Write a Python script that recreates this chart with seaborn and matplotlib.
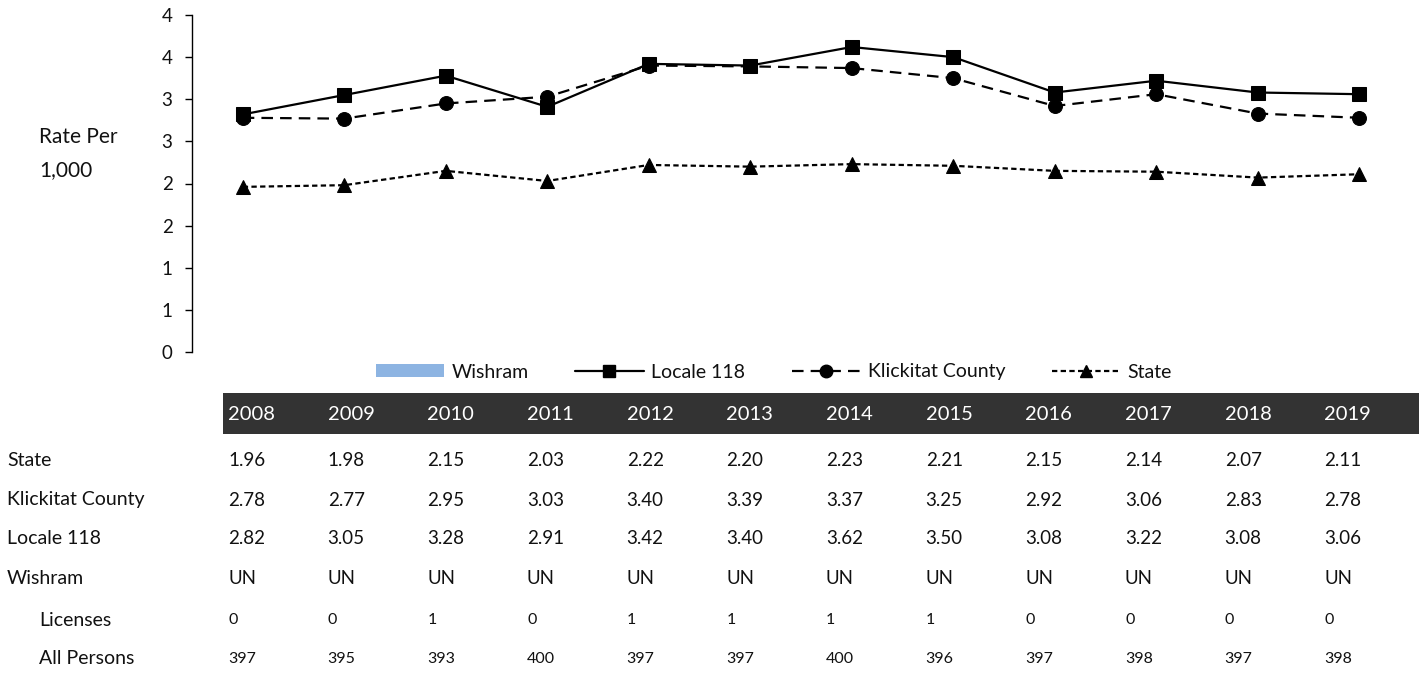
import matplotlib
matplotlib.use("Agg")
import matplotlib.pyplot as plt
import seaborn as sns
import pandas as pd
from matplotlib.patches import Patch, Rectangle
from matplotlib.lines import Line2D
from matplotlib.ticker import FixedLocator, FuncFormatter

years = ["2008", "2009", "2010", "2011", "2012", "2013", "2014", "2015", "2016", "2017", "2018", "2019"]
state = [1.96, 1.98, 2.15, 2.03, 2.22, 2.20, 2.23, 2.21, 2.15, 2.14, 2.07, 2.11]
klickitat = [2.78, 2.77, 2.95, 3.03, 3.40, 3.39, 3.37, 3.25, 2.92, 3.06, 2.83, 2.78]
locale118 = [2.82, 3.05, 3.28, 2.91, 3.42, 3.40, 3.62, 3.50, 3.08, 3.22, 3.08, 3.06]
wishram = ["UN"] * 12
licenses = [0, 0, 1, 0, 1, 1, 1, 1, 0, 0, 0, 0]
all_persons = [397, 395, 393, 400, 397, 397, 400, 396, 397, 398, 397, 398]

sns.set_style("white")
plt.rcParams["font.family"] = ["Lato", "DejaVu Sans"]

W, H = 1423, 673
fig = plt.figure(figsize=(W / 100, H / 100), dpi=100)

def fx(px):
    return px / W

def fy(py):
    return 1 - py / H

TXT = "#111111"

ax = fig.add_axes([fx(192), fy(352), fx(1410) - fx(192), fy(15) - fy(352)])

idx = list(range(len(years)))
df = pd.DataFrame({"i": idx, "state": state, "klickitat": klickitat, "locale": locale118})

lw = 1.6
ms = 10
sns.lineplot(data=df, x="i", y="locale", ax=ax, color="black", lw=lw, marker="s",
             markersize=ms, markeredgecolor="black", linestyle="-")
sns.lineplot(data=df, x="i", y="klickitat", ax=ax, color="black", lw=lw, marker="o",
             markersize=ms, markeredgecolor="black", linestyle=(0, (5.2, 3.2)))
sns.lineplot(data=df, x="i", y="state", ax=ax, color="black", lw=lw, marker="^",
             markersize=ms, markeredgecolor="black", linestyle=(0, (2.4, 1.5)))

ax.set_xlim(-0.5, 11.5)
ax.set_ylim(0, 4)
ax.set_xlabel("")
ax.set_ylabel("")
ax.set_xticks([])
ax.yaxis.set_major_locator(FixedLocator([0, 0.5, 1, 1.5, 2, 2.5, 3, 3.5, 4]))
ax.yaxis.set_major_formatter(FuncFormatter(lambda v, p: str(int(v + 0.5))))
ax.tick_params(axis="y", which="major", direction="out", length=5, width=1,
               color="black", pad=9, labelsize=13.5, labelcolor=TXT, left=True)
for s in ["top", "right", "bottom"]:
    ax.spines[s].set_visible(False)
ax.spines["left"].set_color("black")
ax.spines["left"].set_linewidth(1)

fig.text(fx(39), fy(137), "Rate Per", fontsize=15, ha="left", va="center", color=TXT)
fig.text(fx(39), fy(170), "1,000", fontsize=15, ha="left", va="center", color=TXT)

# legend
handles = [
    Patch(facecolor="#8DB4E2", edgecolor="none"),
    Line2D([], [], color="black", lw=lw, marker="s", markersize=ms - 1, linestyle="-"),
    Line2D([], [], color="black", lw=lw, marker="o", markersize=ms - 1, linestyle=(0, (5.2, 3.2))),
    Line2D([], [], color="black", lw=lw, marker="^", markersize=ms - 2, linestyle=(0, (2.4, 1.5))),
]
labels = ["Wishram", "Locale 118", "Klickitat County", "State"]
leg = fig.legend(handles, labels, loc="center", bbox_to_anchor=(fx(774), fy(372)), ncol=4,
                 frameon=False, fontsize=14, handlelength=3.5, handletextpad=0.4,
                 columnspacing=2.4, handleheight=0.6)
for t in leg.get_texts():
    t.set_color(TXT)

# table
band_left, band_right, band_top, band_bot = 223, 1419, 393, 434
fig.patches.append(Rectangle((fx(band_left), fy(band_bot)), fx(band_right) - fx(band_left),
                             fy(band_top) - fy(band_bot), transform=fig.transFigure,
                             facecolor="#333333", edgecolor="none"))
col_w = (band_right - band_left) / len(years)
for i, y in enumerate(years):
    fig.text(fx(band_left + 5 + i * col_w), fy(414), y, fontsize=14.5, color="white",
             ha="left", va="center")

rows = [
    ("State", [f"{v:.2f}" for v in state], 460, 7, 13.5),
    ("Klickitat County", [f"{v:.2f}" for v in klickitat], 500, 7, 13.5),
    ("Locale 118", [f"{v:.2f}" for v in locale118], 539, 7, 13.5),
    ("Wishram", wishram, 579, 7, 13.5),
    ("Licenses", [str(v) for v in licenses], 620, 39, 11.5),
    ("All Persons", [str(v) for v in all_persons], 659, 39, 11.5),
]
for label, vals, yc, lx, vs in rows:
    fig.text(fx(lx), fy(yc), label, fontsize=14, color=TXT, ha="left", va="center")
    for i, v in enumerate(vals):
        fig.text(fx(band_left + 5 + i * col_w), fy(yc), v, fontsize=vs, color=TXT,
                 ha="left", va="center")

fig.savefig("out.png", dpi=100)
